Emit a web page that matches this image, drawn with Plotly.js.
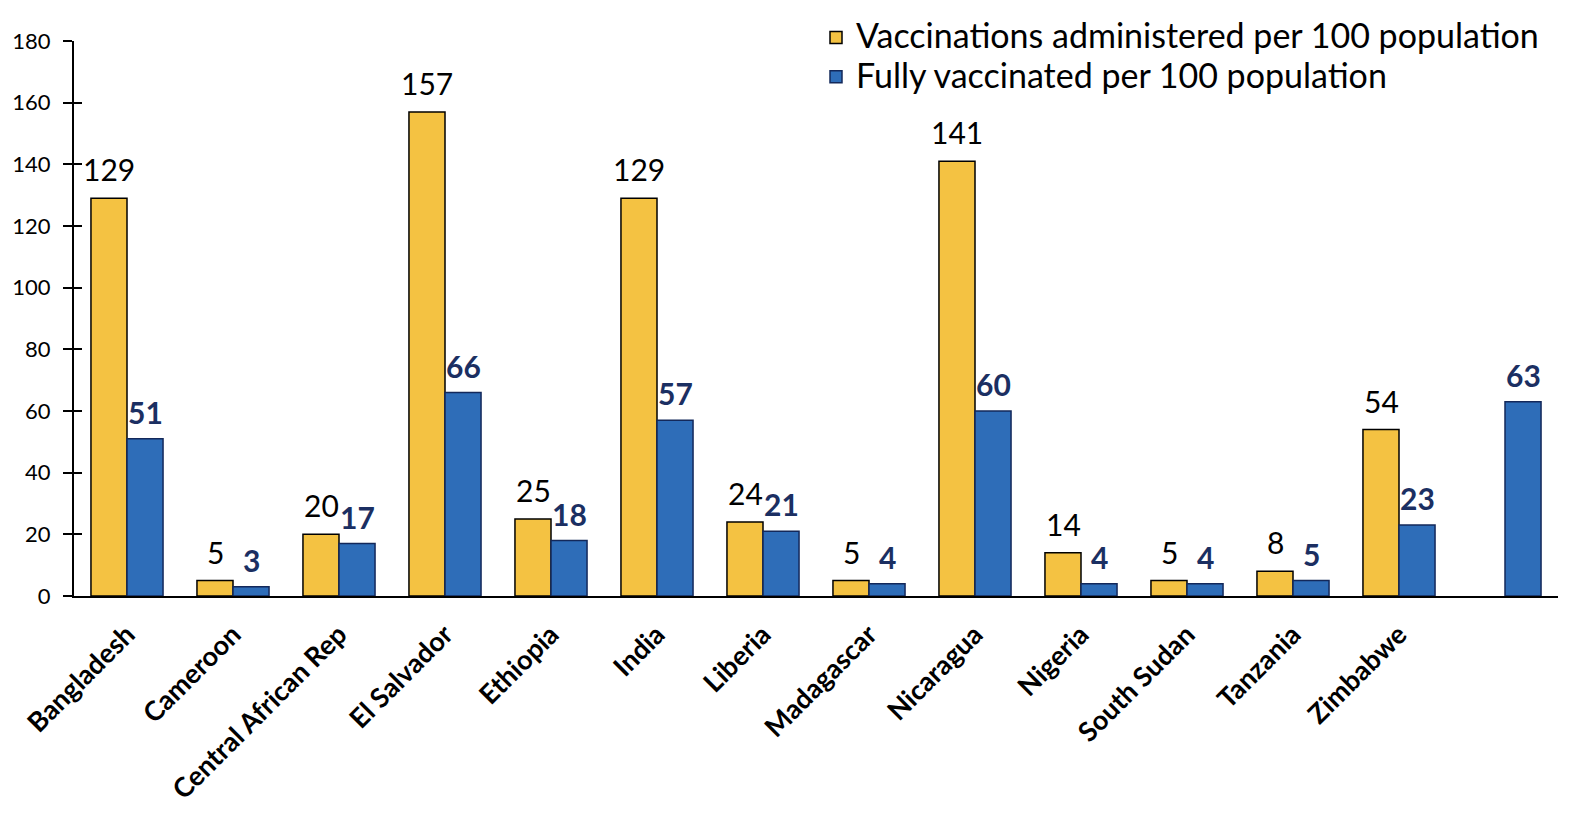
<!DOCTYPE html>
<html>
<head>
<meta charset="utf-8">
<script src="https://cdn.plot.ly/plotly-3.0.1.min.js"></script>
<style>html,body{margin:0;padding:0;background:#fff;}#chart{width:1576px;height:824px;}</style>
</head>
<body>
<div id="chart"></div>
<script>
var countries = ["Bangladesh","Cameroon","Central African Rep","El Salvador","Ethiopia","India","Liberia","Madagascar","Nicaragua","Nigeria","South Sudan","Tanzania","Zimbabwe"," "];
var vaccinationsAdministered = [129,5,20,157,25,129,24,5,141,14,5,8,54,null];
var fullyVaccinated = [51,3,17,66,18,57,21,4,60,4,4,5,23,63];
var yTicks = [0,20,40,60,80,100,120,140,160,180];
var seriesNames = ["Vaccinations administered per 100 population","Fully vaccinated per 100 population"];

var font = "Lato, 'Open Sans', sans-serif";

var traces = [
  {
    type: "bar", name: "<span style='font-size:34px'>" + seriesNames[0] + "</span>",
    x: countries, y: vaccinationsAdministered,
    marker: {color: "#F4C242", line: {color: "#000000", width: 1.5}},
    hoverinfo: "y"
  },
  {
    type: "bar", name: "<span style='font-size:34px'>" + seriesNames[1] + "</span>",
    x: countries, y: fullyVaccinated,
    marker: {color: "#2E6DB8", line: {color: "#13285A", width: 1.5}},
    hoverinfo: "y"
  },
  {
    type: "bar", x: [countries[0]], y: [null], yaxis: "y2",
    showlegend: false, hoverinfo: "skip"
  }
];

var annotations = [];
countries.forEach(function(c, i) {
  if (vaccinationsAdministered[i] !== null) {
    annotations.push({
      x: c, y: vaccinationsAdministered[i], xref: "x", yref: "y",
      text: String(vaccinationsAdministered[i]), showarrow: false,
      xanchor: "center", yanchor: "bottom", xshift: -18, yshift: 9,
      font: {family: font, size: 30, color: "#000000"}
    });
  }
  if (fullyVaccinated[i] !== null) {
    annotations.push({
      x: c, y: fullyVaccinated[i], xref: "x", yref: "y",
      text: "<b>" + fullyVaccinated[i] + "</b>", showarrow: false,
      xanchor: "center", yanchor: "bottom", xshift: 18, yshift: 7,
      font: {family: font, size: 30, color: "#1B2F62"}
    });
  }
});

var layout = {
  width: 1576, height: 824,
  margin: {l: 74, r: 18, t: 41, b: 228, autoexpand: false},
  paper_bgcolor: "#ffffff", plot_bgcolor: "#ffffff",
  barmode: "group", bargap: 0.32, bargroupgap: 0,
  font: {family: font, color: "#000"},
  xaxis: {
    type: "category", tickangle: -45, automargin: false,
    range: [-0.5, countries.length - 0.5], autorange: false,
    tickfont: {family: font, size: 27, color: "#000", weight: "bold"},
    showline: true, linecolor: "#000", linewidth: 2,
    ticks: "", showgrid: false, zeroline: false, ticklabelstandoff: 10
  },
  yaxis: {
    range: [0, 180], tickvals: yTicks, ticktext: yTicks.map(String), automargin: false,
    tickfont: {family: font, size: 22, color: "#000"},
    showline: true, linecolor: "#000", linewidth: 2,
    ticks: "outside", ticklen: 9, tickwidth: 2, tickcolor: "#000",
    showgrid: false, zeroline: false, ticklabelstandoff: 8
  },
  yaxis2: {
    overlaying: "y", side: "left", range: [0, 180], tickvals: yTicks, automargin: false,
    showticklabels: false, ticks: "inside", ticklen: 8, tickwidth: 2, tickcolor: "#000",
    showline: false, showgrid: false, zeroline: false
  },
  shapes: [{
    type: "line", xref: "paper", yref: "y", x0: -0.007, x1: 0, y0: 0, y1: 0,
    line: {color: "#000", width: 2}
  }],
  annotations: annotations,
  legend: {
    x: 0.5, y: 1.051, xanchor: "left", yanchor: "top",
    font: {family: font, size: 28, color: "#000"},
    bgcolor: "rgba(0,0,0,0)", tracegroupgap: 0
  },
  showlegend: true
};

Plotly.newPlot("chart", traces, layout, {displayModeBar: false, staticPlot: true});
</script>
</body>
</html>
